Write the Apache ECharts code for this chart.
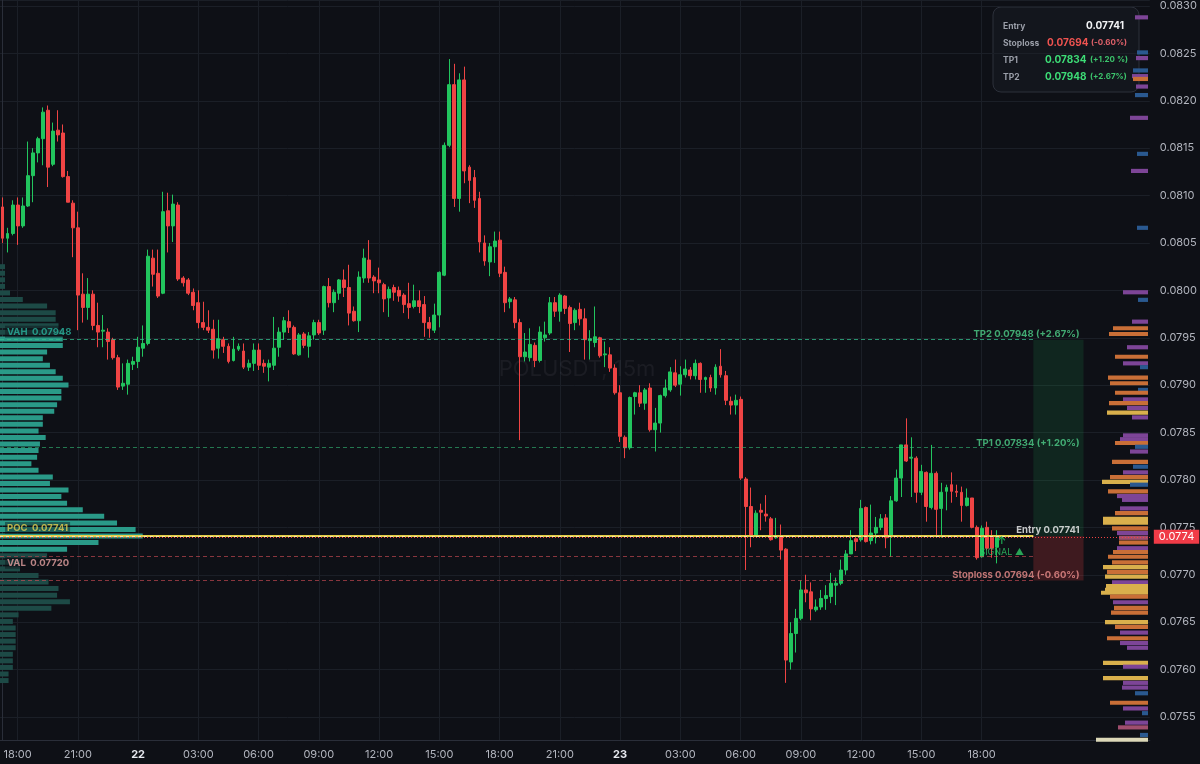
<!DOCTYPE html>
<html><head><meta charset="utf-8">
<script src="https://cdn.jsdelivr.net/npm/echarts@6/dist/echarts.min.js"></script>
<style>html,body{margin:0;padding:0;background:#0e1016;}#c{width:1200px;height:764px;}</style>
</head><body><div id="c"></div>
<script>
// ---- candle data: [open, close, low, high], 15m bars from day 21 17:15 ----
const ohlc = [
[.08088,.08055,.08050,.08098],[.08055,.08060,.08040,.08066],[.08060,.08090,.08058,.08095],[.08090,.08068,.08048,.08098],
[.08068,.08089,.08066,.08098],[.08089,.08121,.08088,.08157],[.08121,.08145,.08093,.08150],[.08145,.08160,.08135,.08162],
[.08160,.08188,.08132,.08193],[.08190,.08130,.08109,.08195],[.08133,.08168,.08131,.08177],[.08169,.08164,.08157,.08190],
[.08166,.08120,.08119,.08175],[.08120,.08093,.08093,.08126],[.08092,.08066,.08035,.08095],[.08066,.07995,.07958,.08083],
[.07996,.07982,.07966,.08018],[.07982,.07996,.07969,.08013],[.07996,.07963,.07958,.08000],[.07963,.07956,.07940,.07987],
[.07957,.07958,.07940,.07974],[.07956,.07946,.07927,.07960],[.07948,.07929,.07927,.07950],[.07929,.07898,.07895,.07932],
[.07899,.07902,.07895,.07923],[.07901,.07923,.07890,.07927],[.07922,.07925,.07916,.07930],[.07925,.07940,.07918,.07951],
[.07939,.07944,.07930,.07963],[.07944,.08036,.07942,.08043],[.08034,.08017,.08004,.08043],[.08018,.07994,.07992,.08043],
[.07997,.08083,.07996,.08104],[.08084,.08068,.08040,.08103],[.08068,.08091,.08051,.08101],[.08090,.08012,.08010,.08093],
[.08013,.08008,.08004,.08015],[.08011,.07997,.07995,.08013],[.07998,.07984,.07979,.08002],[.07987,.07966,.07960,.08000],
[.07966,.07961,.07958,.07988],[.07961,.07958,.07955,.07979],[.07959,.07937,.07928,.07969],[.07939,.07949,.07928,.07969],
[.07948,.07941,.07934,.07951],[.07941,.07925,.07923,.07944],[.07926,.07938,.07925,.07951],[.07938,.07941,.07936,.07944],
[.07936,.07919,.07917,.07944],[.07919,.07923,.07915,.07927],[.07923,.07937,.07915,.07944],[.07937,.07921,.07916,.07944],
[.07923,.07920,.07913,.07927],[.07919,.07923,.07904,.07927],[.07921,.07939,.07916,.07972],[.07940,.07956,.07930,.07961],
[.07956,.07968,.07948,.07972],[.07967,.07961,.07955,.07979],[.07961,.07933,.07932,.07963],[.07932,.07953,.07931,.07955],
[.07954,.07942,.07939,.07956],[.07941,.07952,.07929,.07956],[.07953,.07966,.07948,.07969],[.07966,.07955,.07953,.07969],
[.07958,.08004,.07953,.08005],[.08004,.07987,.07982,.08013],[.07987,.07998,.07977,.08001],[.07997,.08011,.07990,.08012],
[.08011,.08003,.07993,.08022],[.08003,.07976,.07963,.08027],[.07978,.07968,.07967,.07983],[.07968,.08014,.07956,.08020],
[.08013,.08034,.08008,.08044],[.08032,.08013,.08008,.08053],[.08014,.08010,.07997,.08016],[.08011,.08008,.07997,.08024],
[.08006,.07991,.07977,.08008],[.07992,.08001,.07972,.08004],[.08003,.07998,.07989,.08006],[.08000,.07994,.07988,.08004],
[.07995,.07985,.07976,.07997],[.07986,.07982,.07970,.08008],[.07983,.07989,.07981,.08006],[.07989,.07983,.07976,.08000],
[.07985,.07966,.07951,.07994],[.07966,.07960,.07950,.07972],[.07958,.07974,.07955,.07986],[.07974,.08019,.07961,.08020],
[.08016,.08153,.08015,.08156],[.08153,.08217,.08151,.08244],[.08217,.08097,.08088,.08239],[.08097,.08222,.08083,.08229],
[.08222,.08126,.08113,.08236],[.08130,.08116,.08092,.08132],[.08119,.08095,.08087,.08127],[.08097,.08051,.08040,.08104],
[.08050,.08031,.08026,.08058],[.08030,.08046,.08015,.08050],[.08046,.08052,.08029,.08062],[.08053,.08018,.08014,.08062],
[.08019,.07987,.07977,.08025],[.07988,.07991,.07981,.07993],[.07990,.07966,.07960,.07993],[.07966,.07930,.07842,.07970],
[.07930,.07935,.07925,.07955],[.07929,.07943,.07925,.07960],[.07942,.07926,.07919,.07945],[.07926,.07956,.07924,.07962],
[.07950,.07953,.07946,.07967],[.07955,.07987,.07953,.07993],[.07987,.07978,.07972,.07993],[.07978,.07995,.07967,.07997],
[.07994,.07981,.07975,.07995],[.07982,.07965,.07935,.07984],[.07966,.07979,.07958,.07981],[.07980,.07970,.07963,.07987],
[.07970,.07948,.07927,.07981],[.07947,.07949,.07927,.07958],[.07945,.07951,.07940,.07983],[.07950,.07931,.07929,.07951],
[.07932,.07933,.07919,.07946],[.07932,.07918,.07914,.07940],[.07918,.07892,.07890,.07922],[.07892,.07846,.07840,.07900],
[.07845,.07834,.07823,.07847],[.07834,.07887,.07832,.07888],[.07888,.07892,.07869,.07893],[.07892,.07881,.07877,.07900],
[.07881,.07895,.07874,.07897],[.07897,.07853,.07851,.07902],[.07853,.07860,.07830,.07876],[.07860,.07889,.07850,.07890],
[.07889,.07897,.07887,.07906],[.07895,.07914,.07893,.07919],[.07913,.07900,.07898,.07927],[.07901,.07911,.07889,.07920],
[.07911,.07917,.07908,.07927],[.07916,.07910,.07906,.07919],[.07910,.07923,.07906,.07927],[.07923,.07906,.07892,.07924],
[.07906,.07908,.07892,.07909],[.07908,.07897,.07893,.07911],[.07897,.07919,.07890,.07922],[.07920,.07911,.07908,.07938],
[.07910,.07884,.07879,.07915],[.07883,.07879,.07869,.07888],[.07879,.07884,.07869,.07890],[.07885,.07802,.07800,.07888],
[.07801,.07772,.07705,.07803],[.07772,.07741,.07729,.07792],[.07742,.07765,.07741,.07768],[.07768,.07766,.07747,.07775],
[.07764,.07762,.07756,.07784],[.07759,.07737,.07736,.07761],[.07739,.07741,.07738,.07760],[.07740,.07726,.07716,.07753],
[.07727,.07610,.07586,.07728],[.07608,.07638,.07600,.07650],[.07638,.07654,.07618,.07664],[.07654,.07684,.07652,.07694],
[.07684,.07681,.07671,.07700],[.07682,.07664,.07652,.07692],[.07663,.07666,.07661,.07674],[.07666,.07675,.07663,.07684],
[.07675,.07678,.07663,.07689],[.07677,.07691,.07670,.07702],[.07689,.07691,.07668,.07697],[.07691,.07705,.07689,.07716],
[.07705,.07722,.07700,.07726],[.07722,.07736,.07722,.07747],[.07738,.07735,.07725,.07742],[.07737,.07770,.07735,.07779],
[.07771,.07735,.07734,.07772],[.07736,.07744,.07732,.07774],[.07744,.07750,.07733,.07761],[.07750,.07759,.07747,.07764],
[.07760,.07739,.07728,.07764],[.07740,.07778,.07719,.07783],[.07778,.07802,.07777,.07811],[.07802,.07837,.07782,.07837],
[.07837,.07820,.07819,.07865],[.07823,.07824,.07782,.07845],[.07823,.07787,.07776,.07825],[.07787,.07809,.07784,.07816],
[.07808,.07772,.07756,.07809],[.07771,.07807,.07769,.07837],[.07807,.07769,.07742,.07809],[.07770,.07787,.07739,.07797],
[.07788,.07792,.07768,.07795],[.07795,.07788,.07776,.07808],[.07788,.07787,.07782,.07795],[.07787,.07773,.07756,.07793],
[.07773,.07781,.07772,.07791],[.07781,.07750,.07749,.07781],[.07750,.07718,.07716,.07752],[.07719,.07749,.07718,.07752],
[.07750,.07728,.07726,.07756],[.07739,.07728,.07718,.07747],[.07729,.07740,.07712,.07747]
];

// ---- time categories (15m slots, incl. empty right margin) ----
const startDay = 21, startHour = 17, startMin = 15, slotMinutes = 15, slotCount = 229;
const categories = [];
for (let i = 0; i < slotCount; i++) {
  const total = startHour * 60 + startMin + i * slotMinutes;
  const d = startDay + Math.floor(total / 1440);
  const m = total % 1440;
  categories.push(d + ' ' + String(Math.floor(m / 60)).padStart(2, '0') + ':' + String(m % 60).padStart(2, '0'));
}
const lastLabelSlot = 200;

// ---- trade levels ----
const entryPrice = 0.07741, stopPrice = 0.07694, tp1Price = 0.07834, tp2Price = 0.07948;
const vahPrice = 0.07948, pocPrice = 0.07741, valPrice = 0.07720;
const lastPrice = 0.0774;
const zoneStart = 205.3, zoneEnd = 215.3;   // slot positions of the projection box
const signalSlot = 199;
const signalTextPrice = 0.07724, signalArrowPrice = 0.07736;

// ---- left volume profile (session VP), top bin center + step, relative volumes ----
const leftTop = 0.08025, leftStep = 0.0000693;
const leftVol = [3.5,3.5,3.5,3.5,7,16,33,39,39,41,45,44,44,33,30,35,39,44,48,43,43,40,38,30,30,27,32,28,27,26,22,27,37,35,48,43,47,58,73,82,95,100,69,47,33,14,14,27,34,41,40,49,36,13,9,11,11,11,11,9,9,9,6,6];
const vahIndex = 11, valIndex = 43;

// ---- right heat profile ----
const rightPrice = [.08288,.08251,.08245,.08232,.08226,.08223,.08215,.08206,.08182,.08144,.08126,.08066,.07998,.07990,.07967,.07960,.07954,.07940,.07930,.07923,.07919,.07908,.07902,.07895,.07892,.07885,.07881,.07876,.07871,.07866,.07847,.07843,.07839,.07835,.07830,.07819,.07814,.07808,.07803,.07798,.07795,.07788,.07783,.07779,.07770,.07765,.07759,.07755,.07749,.07744,.07739,.07734,.07728,.07724,.07719,.07713,.07708,.07703,.07698,.07692,.07688,.07684,.07681,.07677,.07671,.07665,.07660,.07650,.07645,.07639,.07633,.07628,.07623,.07607,.07603,.07591,.07586,.07581,.07575,.07565,.07559,.07554,.07544,.07539,.07531,.07526];
const rightVol   = [13,11,12,15,16,15,12,13,18,11,17,11,25,10,16,35,39,21,33,25,8,40,38,10,33,25,39,21,41,16,25,28,33,13,18,36,15,25,38,46,18,40,31,26,28,33,45,45,36,31,29,29,31,35,40,36,45,41,43,36,42,43,47,38,35,34,37,43,33,28,41,28,21,45,25,45,25,26,13,38,25,6,23,30,8,52];
const rightKind  = 'PBPBPOPBPBPBPBPOOPOPBOOBOPOPYPPPOBPOBPOYBOPPPOYYOPKOPOOOYOYPYYYOPOOYOPOPPYPYPPBOPBPKBW';

const rpColors = {Y:'#d9b04c', O:'#c96f37', P:'#7d4597', K:'#a04e6e', B:'#2a5990', W:'#dcd8b8'};

// ---- axis range ----
const priceMin = 0.075257, priceMax = 0.083063;

const bg = '#0e1016', gridCol = '#1b1f27', axisCol = '#2a2e39', txtCol = '#b2b5be';
const upCol = '#22c55e', downCol = '#ef4444';
const font = 'Inter, "Noto Sans", sans-serif';

function isMajor(idx) {
  if (idx > lastLabelSlot) return false;
  const t = categories[idx].split(' ')[1];
  const h = +t.slice(0, 2), m = +t.slice(3);
  return m === 0 && h % 3 === 0;
}

const chart = echarts.init(document.getElementById('c'), null, {renderer: 'canvas'});

const levelLine = (p1, p2, x0, x1, style) => [{coord: [x0, p1], lineStyle: style}, {coord: [x1, p2]}];

const labelPoint = (x, price, text, color, pos, offY) => ({
  value: [x, price],
  label: {show: true, formatter: text, color: color, position: pos, distance: pos === 'left' ? 4 : 6,
    offset: [0, offY], fontSize: 9.5, fontWeight: 'bold', fontFamily: font}
});

const boxText = (x, y, text, fill, size, align) => ({type: 'text', x: x, y: y,
  style: {text: text, fill: fill, fontSize: size, fontWeight: 'bold', fontFamily: font,
    textAlign: align || 'left', align: align || 'left', textVerticalAlign: 'middle', verticalAlign: 'middle'}});

const option = {
  backgroundColor: bg,
  animation: false,
  grid: [
    {left: 0, right: 48, top: 0, bottom: 24},
    {left: 0, right: 52, top: 0, bottom: 24}
  ],
  xAxis: [
    {type: 'category', gridIndex: 0, data: categories, boundaryGap: true,
      axisLine: {lineStyle: {color: axisCol}}, axisTick: {show: false},
      axisLabel: {interval: (i) => isMajor(i), color: txtCol, fontSize: 11, fontFamily: font, margin: 9,
        formatter: (v) => { const [d, t] = v.split(' '); return t === '00:00' ? '{b|' + d + '}' : t; },
        rich: {b: {fontWeight: 'bold', color: '#e6e8ee', fontSize: 11, fontFamily: font}}},
      splitLine: {show: true, interval: (i) => isMajor(i), alignWithLabel: true, lineStyle: {color: gridCol}}},
    {type: 'value', gridIndex: 0, min: -0.5, max: slotCount - 0.5, show: false},
    {type: 'value', gridIndex: 0, min: 0, max: 100 * 1152 / 143, show: false},
    {type: 'value', gridIndex: 1, min: 0, max: 1148, inverse: true, show: false}
  ],
  yAxis: [
    {type: 'value', gridIndex: 0, position: 'right', min: priceMin, max: priceMax, splitNumber: 15, scale: true,
      axisLine: {show: true, lineStyle: {color: axisCol}}, axisTick: {show: false},
      axisLabel: {color: txtCol, fontSize: 11, fontFamily: font, margin: 10, showMinLabel: false, showMaxLabel: false,
        formatter: (v) => v.toFixed(4)},
      splitLine: {lineStyle: {color: gridCol}}},
    {type: 'value', gridIndex: 1, min: priceMin, max: priceMax, show: false}
  ],
  graphic: [
    {type: 'text', x: 577, y: 369, z: 1, silent: true,
      style: {text: 'POLUSDT, 15m', fill: 'rgba(200,205,215,0.07)', fontSize: 22, fontFamily: font,
        textAlign: 'center', textVerticalAlign: 'middle', align: 'center', verticalAlign: 'middle'}},
    {type: 'group', x: 993, y: 7, z: 100, children: [
      {type: 'rect', shape: {x: 0, y: 0, width: 146, height: 85, r: 8}, style: {fill: 'rgba(20,23,30,0.96)', stroke: '#2c303a', lineWidth: 1}},
      boxText(10, 19, 'Entry', '#9a9ea8', 8.5),
      boxText(10, 36, 'Stoploss', '#9a9ea8', 8.5),
      boxText(10, 53, 'TP1', '#9a9ea8', 8.5),
      boxText(10, 70, 'TP2', '#9a9ea8', 8.5),
      boxText(131, 19, entryPrice.toFixed(5), '#f2f3f5', 10, 'right'),
      boxText(54, 36, stopPrice.toFixed(5), '#ef5350', 10),
      boxText(98, 36, '(-0.60%)', '#e0616a', 8),
      boxText(52, 53, tp1Price.toFixed(5), '#3ddc76', 10),
      boxText(97, 53, '(+1.20 %)', '#3cc46c', 8),
      boxText(52, 70, tp2Price.toFixed(5), '#3ddc76', 10),
      boxText(97, 70, '(+2.67%)', '#3cc46c', 8)
    ]}
  ],
  series: [
    {
      name: 'leftVP', type: 'custom', xAxisIndex: 2, yAxisIndex: 0, z: 1, silent: true,
      encode: {x: 1, y: 0},
      data: leftVol.map((v, i) => [leftTop - i * leftStep, v, (i >= vahIndex && i <= valIndex) ? 1 : 0]),
      renderItem: (params, api) => {
        const p = api.value(0), v = api.value(1), inVA = api.value(2);
        const a = api.coord([0, p + leftStep * 0.38]);
        const b = api.coord([v, p - leftStep * 0.38]);
        return {type: 'rect', shape: {x: a[0], y: a[1], width: b[0] - a[0], height: b[1] - a[1]},
          style: {fill: inVA ? '#2a9a88' : '#1d4a46'}};
      }
    },
    {
      name: 'rightVP', type: 'custom', xAxisIndex: 3, yAxisIndex: 1, z: 1, silent: true,
      encode: {x: 1, y: 0},
      data: rightPrice.map((p, i) => [p, rightVol[i], i]),
      renderItem: (params, api) => {
        const p = api.value(0), v = api.value(1), i = api.value(2);
        const a = api.coord([0, p + 0.000022]);
        const b = api.coord([v, p - 0.000022]);
        return {type: 'rect', shape: {x: b[0], y: a[1], width: a[0] - b[0], height: b[1] - a[1]},
          style: {fill: rpColors[rightKind[i]]}};
      }
    },
    {
      name: 'POLUSDT', type: 'candlestick', xAxisIndex: 0, yAxisIndex: 0, z: 3,
      data: ohlc, barWidth: '68%',
      itemStyle: {color: upCol, color0: downCol, borderColor: upCol, borderColor0: downCol, borderWidth: 1}
    },
    {
      name: 'lastPrice', type: 'scatter', xAxisIndex: 1, yAxisIndex: 0, z: 4, symbolSize: 0, silent: true,
      data: [],
      markLine: {
        silent: true, symbol: ['none', 'none'],
        lineStyle: {color: '#ef4444', type: [1, 2], width: 1},
        label: {show: true, position: 'end', distance: 4, formatter: () => lastPrice.toFixed(4), color: '#fff',
          backgroundColor: '#f03b47', padding: [2, 5, 1, 5], fontSize: 11, fontFamily: font},
        data: [[{coord: [-0.5, lastPrice]}, {coord: [slotCount - 0.5, lastPrice]}]]
      }
    },
    {
      name: 'levels', type: 'scatter', xAxisIndex: 1, yAxisIndex: 0, z: 6, symbolSize: 0, silent: true,
      data: [
        labelPoint(zoneEnd, tp2Price, 'TP2 0.07948 (+2.67%)', '#4fd08a', 'left', -6),
        labelPoint(zoneEnd, tp1Price, 'TP1 0.07834 (+1.20%)', '#4fd08a', 'left', -5),
        labelPoint(zoneEnd, entryPrice, 'Entry 0.07741', '#f4f4f4', 'left', -6),
        labelPoint(zoneEnd, stopPrice, 'Stoploss 0.07694 (-0.60%)', '#ec8f8c', 'left', -5),
        {value: [-0.5, vahPrice], label: {show: true, position: 'right', distance: 5, offset: [0, -8], formatter: 'VAH  0.07948',
          color: '#2bb39e', fontSize: 9.5, fontWeight: 'bold', fontFamily: font, backgroundColor: 'rgba(14,16,22,0.55)', padding: [1, 2]}},
        {value: [-0.5, pocPrice], label: {show: true, position: 'right', distance: 5, offset: [0, -8], formatter: 'POC  0.07741',
          color: '#e2cf52', fontSize: 9.5, fontWeight: 'bold', fontFamily: font, backgroundColor: 'rgba(14,16,22,0.55)', padding: [1, 2]}},
        {value: [-0.5, valPrice], label: {show: true, position: 'right', distance: 5, offset: [0, 7], formatter: 'VAL  0.07720',
          color: '#e7a2a2', fontSize: 9.5, fontWeight: 'bold', fontFamily: font, backgroundColor: 'rgba(14,16,22,0.55)', padding: [1, 2]}},
        {value: [signalSlot, signalTextPrice], label: {show: true, position: 'inside', formatter: 'SIGNAL ▲',
          color: '#2fc867', fontSize: 9, fontFamily: font}},
        {value: [signalSlot, signalArrowPrice], label: {show: true, position: 'inside', formatter: '↑',
          color: '#22c55e', fontSize: 10, fontWeight: 'bold', fontFamily: font}}
      ],
      markArea: {
        silent: true,
        data: [
          [{coord: [zoneStart, tp2Price], itemStyle: {color: 'rgba(34,197,94,0.13)'}}, {coord: [zoneEnd, entryPrice]}],
          [{coord: [zoneStart, entryPrice], itemStyle: {color: 'rgba(239,68,68,0.21)'}}, {coord: [zoneEnd, stopPrice]}]
        ]
      },
      markLine: {
        silent: true, symbol: ['none', 'none'], label: {show: false},
        data: [
          levelLine(vahPrice, tp2Price, -0.5, zoneStart, {color: 'rgba(52,190,140,0.75)', type: [4, 3], width: 1}),
          levelLine(tp1Price, tp1Price, -0.5, zoneStart, {color: 'rgba(52,190,120,0.6)', type: [4, 3], width: 1}),
          levelLine(valPrice, valPrice, -0.5, zoneStart, {color: 'rgba(220,80,90,0.6)', type: [4, 3], width: 1}),
          levelLine(stopPrice, stopPrice, -0.5, zoneStart, {color: 'rgba(220,80,90,0.6)', type: [4, 3], width: 1}),
          levelLine(pocPrice, pocPrice, -0.5, zoneStart, {color: '#e3cd48', type: 'solid', width: 2}),
          levelLine(entryPrice, entryPrice, -0.5, zoneStart, {color: 'rgba(255,255,255,0.55)', type: [3, 3], width: 1})
        ]
      }
    }
  ]
};
chart.setOption(option);
</script></body></html>
